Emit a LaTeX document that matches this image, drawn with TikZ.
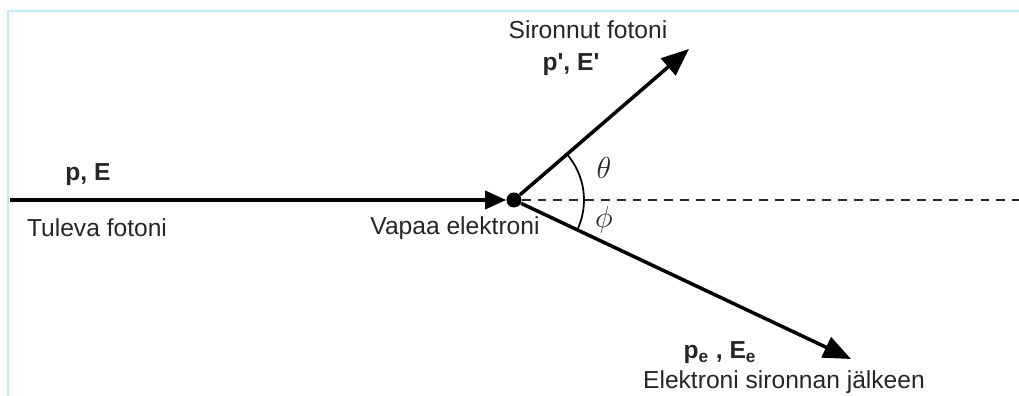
\documentclass[tikz,border=0pt]{standalone}
\usepackage{fontspec}
\setmainfont{Liberation Sans}
\usetikzlibrary{arrows.meta}
\tikzset{
  >={Triangle[length=5.5mm,width=4.4mm]},
}
\begin{document}
\begin{tikzpicture}[
  every node/.style={font=\fontsize{14}{16}\selectfont},
  ray/.style={line width=2pt},
  dot/.style={circle,fill,inner sep=0pt,minimum size=3mm},
  lab/.style={inner sep=1pt,text=black!85},
  qty/.style={lab,font=\fontsize{14}{16}\selectfont\bfseries},
  ang/.style={lab,font=\fontsize{17}{19}\selectfont}
]
\useasboundingbox (-10.28,-3.92) rectangle (10.10,4.0);
\draw[cyan!25,line width=0.6pt] (-10.12,-3.92) -- (-10.12,3.78) -- (10.10,3.78);

\node[dot] (e) at (0,0) {};
\coordinate (in) at (-10.08,0);
\coordinate (ph) at (3.5,3.02);
\coordinate (el) at (6.74,-3.18);
\coordinate (ax) at (10.10,0);

\draw[ray,-{Triangle[length=4.2mm,width=3.6mm]}] (in) -- (e);
\draw[ray,->] (e) -- (ph);
\draw[ray,->] (e) -- (el);
\draw[line width=1.3pt,black!85,dash pattern=on 5pt off 4pt] (e) -- (ax);
\draw[line width=1pt] (40.8:1.4) arc[start angle=40.8,end angle=-25.3,radius=1.4];

\node[qty] (pE) at (-8.52,0.5) {p, E};
\node[lab] (tul) at (-8.34,-0.56) {Tuleva fotoni};
\node[lab] (vap) at (-1.18,-0.56) {Vapaa elektroni};
\node[lab] (sir) at (1.48,3.4) {Sironnut fotoni};
\node[qty] (pEs) at (1.14,2.7) {p\textquotesingle, E\textquotesingle};
\node[ang] (th) at (1.8,0.64) {$\theta$};
\node[ang] (ph2) at (1.8,-0.4) {$\phi$};
\node[qty] (pEe) at (4.12,-3.06) {p\textsubscript{e} , E\textsubscript{e}};
\node[lab] (elj) at (5.4,-3.64) {Elektroni sironnan jälkeen};

\end{tikzpicture}
\end{document}
